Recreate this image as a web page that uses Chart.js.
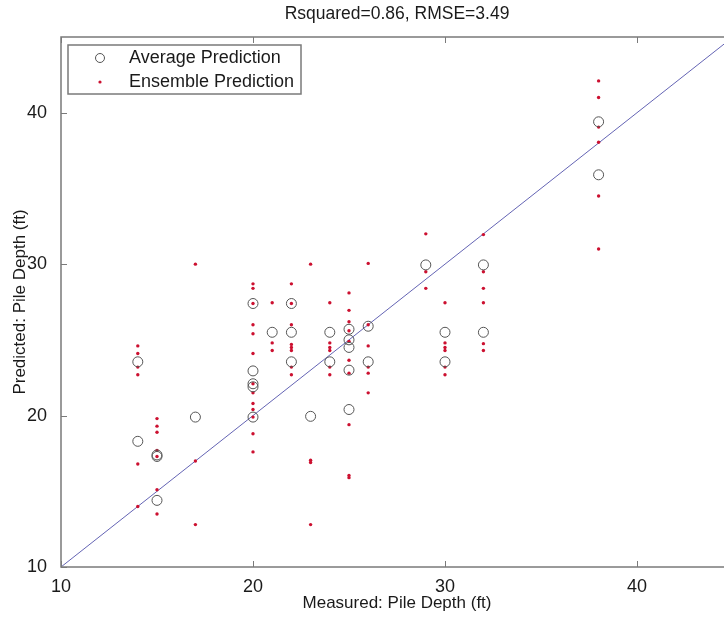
<!DOCTYPE html>
<html lang="en">
  <head>
    <meta charset="UTF-8" />
    <title>Pile Depth Prediction</title>
    <script src="https://cdn.jsdelivr.net/npm/chart.js"></script>
    <style>
      html, body {
        margin: 0;
        padding: 0;
        background: #fff;
        overflow: hidden;
      }
      .wrap {
        position: relative;
        width: 745px;
        height: 617px;
      }
    </style>
  </head>
  <body>
    <div class="wrap">
      <canvas id="pileChart"></canvas>
    </div>

    <script>
      // average prediction (open circles)
      const avgMeasured = [
        14, 14, 15, 15, 15, 17, 20, 20, 20, 20, 20, 21, 22, 22, 22, 23, 24, 24,
        25, 25, 25, 25, 25, 26, 26, 29, 30, 30, 32, 32, 38, 38,
      ];
      const avgPredicted = [
        23.55, 18.3, 17.4, 17.3, 14.4, 19.9, 27.4, 22.95, 22.1, 21.9, 19.9, 25.5,
        27.4, 25.5, 23.55, 19.95, 25.5, 23.55, 25.7, 25.0, 24.5, 23.0, 20.4, 25.9,
        23.55, 29.95, 25.5, 23.55, 29.95, 25.5, 39.4, 35.9,
      ];

      // ensemble prediction (red dots)
      const ensMeasured = [
        14, 14, 14, 14, 14, 14,
        15, 15, 15, 15, 15, 15, 15,
        17, 17, 17,
        20, 20, 20, 20, 20, 20, 20, 20, 20, 20, 20, 20, 20,
        21, 21, 21,
        22, 22, 22, 22, 22, 22, 22, 22,
        23, 23, 23, 23,
        24, 24, 24, 24, 24, 24,
        25, 25, 25, 25, 25, 25, 25, 25, 25, 25,
        26, 26, 26, 26, 26, 26,
        29, 29, 29,
        30, 30, 30, 30, 30, 30,
        32, 32, 32, 32, 32, 32,
        38, 38, 38, 38, 38, 38,
      ];
      const ensPredicted = [
        24.6, 24.1, 23.2, 22.7, 16.8, 14.0,
        19.8, 19.3, 18.9, 17.7, 17.3, 15.1, 13.5,
        30.0, 17.0, 12.8,
        28.7, 28.4, 27.4, 26.0, 25.4, 24.1, 22.1, 21.5, 20.8, 20.4, 19.9, 18.8, 17.6,
        27.45, 24.8, 24.3,
        28.7, 27.4, 26.0, 24.7, 24.5, 24.3, 23.2, 22.7,
        30.0, 17.05, 16.9, 12.8,
        27.45, 24.8, 24.5, 24.3, 23.2, 22.7,
        28.1, 26.95, 26.2, 25.6, 24.9, 23.65, 22.8, 19.4, 16.05, 15.9,
        30.05, 26.0, 24.6, 23.2, 22.8, 21.5,
        32.0, 29.5, 28.4,
        27.45, 24.8, 24.5, 24.3, 23.2, 22.7,
        31.95, 29.5, 28.4, 27.45, 24.75, 24.3,
        42.1, 41.0, 39.05, 38.05, 34.5, 31.0,
      ];

      // y = x reference line ends
      const lineEnds = [10, 45];

      const axisMin = 10;
      const axisMax = 45;
      const tickStep = 10;

      const titleText = "Rsquared=0.86, RMSE=3.49";
      const xTitle = "Measured: Pile Depth (ft)";
      const yTitle = "Predicted: Pile Depth (ft)";
      const legendLabels = ["Average Prediction", "Ensemble Prediction"];

      const FONT = "'Liberation Sans', Arial, sans-serif";
      const AXIS_GREY = "#7a7a7a";

      const toPoints = (xs, ys) => xs.map((x, i) => ({ x: x, y: ys[i] }));

      // box around the axes, inward ticks, and a MATLAB-like legend
      const matlabAxes = {
        id: "matlabAxes",
        afterDraw(chart) {
          const { ctx, chartArea: a, scales } = chart;
          ctx.save();
          ctx.strokeStyle = AXIS_GREY;
          ctx.lineWidth = 1.5;
          ctx.strokeRect(a.left, a.top, a.right - a.left, a.bottom - a.top);

          ctx.lineWidth = 1;
          const tl = 6;
          scales.x.ticks.forEach((t) => {
            const px = Math.round(scales.x.getPixelForValue(t.value)) + 0.5;
            ctx.beginPath();
            ctx.moveTo(px, a.bottom);
            ctx.lineTo(px, a.bottom - tl);
            ctx.moveTo(px, a.top);
            ctx.lineTo(px, a.top + tl);
            ctx.stroke();
          });
          scales.y.ticks.forEach((t) => {
            const py = Math.round(scales.y.getPixelForValue(t.value)) + 0.5;
            ctx.beginPath();
            ctx.moveTo(a.left, py);
            ctx.lineTo(a.left + tl, py);
            ctx.moveTo(a.right, py);
            ctx.lineTo(a.right - tl, py);
            ctx.stroke();
          });

          // legend
          const lx = a.left + 7;
          const ly = a.top + 8;
          const lw = 233;
          const lh = 49;
          ctx.fillStyle = "#fff";
          ctx.fillRect(lx, ly, lw, lh);
          ctx.strokeStyle = AXIS_GREY;
          ctx.lineWidth = 1.5;
          ctx.strokeRect(lx, ly, lw, lh);

          const avgDs = chart.data.datasets[0];
          const ensDs = chart.data.datasets[1];
          ctx.beginPath();
          ctx.arc(lx + 32, ly + 13, 4.5, 0, Math.PI * 2);
          ctx.strokeStyle = avgDs.borderColor;
          ctx.lineWidth = 1;
          ctx.stroke();
          ctx.beginPath();
          ctx.arc(lx + 32, ly + 37, 1.6, 0, Math.PI * 2);
          ctx.fillStyle = ensDs.backgroundColor;
          ctx.fill();

          ctx.fillStyle = "#1a1a1a";
          ctx.font = "18px " + FONT;
          ctx.textBaseline = "middle";
          ctx.textAlign = "left";
          ctx.fillText(legendLabels[0], lx + 61, ly + 13);
          ctx.fillText(legendLabels[1], lx + 61, ly + 37);
          ctx.restore();
        },
      };

      new Chart(document.getElementById("pileChart"), {
        type: "scatter",
        data: {
          datasets: [
            {
              label: legendLabels[0],
              data: toPoints(avgMeasured, avgPredicted),
              pointStyle: "circle",
              pointRadius: 5,
              borderColor: "#555555",
              backgroundColor: "rgba(0,0,0,0)",
              borderWidth: 1,
            },
            {
              label: legendLabels[1],
              data: toPoints(ensMeasured, ensPredicted),
              pointStyle: "circle",
              pointRadius: 1.7,
              borderWidth: 0,
              backgroundColor: "#cc1030",
              borderColor: "#cc1030",
            },
            {
              label: "y = x",
              data: toPoints(lineEnds, lineEnds),
              showLine: true,
              pointRadius: 0,
              borderColor: "#6464b4",
              borderWidth: 1,
            },
          ],
        },
        options: {
          responsive: true,
          maintainAspectRatio: false,
          animation: false,
          layout: { padding: { left: 0, right: 12, top: 0, bottom: 0 } },
          plugins: {
            legend: { display: false },
            tooltip: { enabled: false },
            title: {
              display: true,
              fullSize: false,
              text: titleText,
              color: "#1a1a1a",
              font: { family: FONT, size: 17.5, weight: "normal" },
              padding: { top: 4, bottom: 12 },
            },
          },
          scales: {
            x: {
              type: "linear",
              min: axisMin,
              max: axisMax,
              grid: { display: false },
              border: { display: false },
              ticks: {
                stepSize: tickStep,
                includeBounds: false,
                color: "#1a1a1a",
                padding: 1,
                font: { family: FONT, size: 18 },
              },
              title: {
                display: true,
                text: xTitle,
                color: "#1a1a1a",
                font: { family: FONT, size: 17 },
                padding: { top: 0, bottom: 3 },
              },
              afterFit(scale) {
                scale.height = 50;
              },
            },
            y: {
              type: "linear",
              min: axisMin,
              max: axisMax,
              grid: { display: false },
              border: { display: false },
              ticks: {
                stepSize: tickStep,
                includeBounds: false,
                color: "#1a1a1a",
                padding: 6,
                font: { family: FONT, size: 18 },
              },
              title: {
                display: true,
                text: yTitle,
                color: "#1a1a1a",
                font: { family: FONT, size: 17 },
                padding: { top: 10, bottom: 0 },
              },
              afterFit(scale) {
                scale.width = 61;
              },
            },
          },
        },
        plugins: [matlabAxes],
      });
    </script>
  </body>
</html>
